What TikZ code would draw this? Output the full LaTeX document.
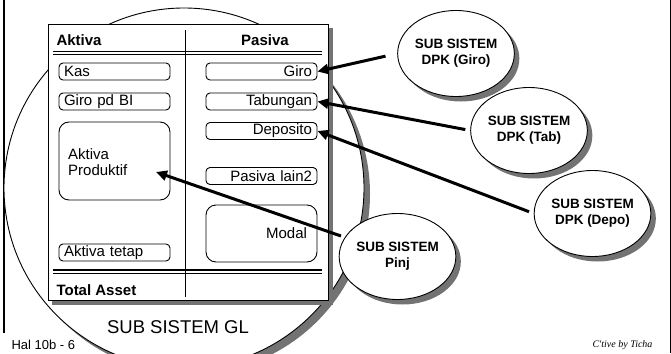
\documentclass[tikz,border=0pt]{standalone}
\usepackage{fontspec}
\setmainfont{Liberation Sans}
\newfontfamily\sigfont{Liberation Serif}
\usetikzlibrary{shapes.geometric,shadows,arrows.meta}

\tikzset{
  shade/.style={fill=black!55},
  acct/.style={draw,line width=0.9pt,rounded corners=4pt,minimum height=17pt,text width=101pt,inner xsep=5pt,inner ysep=0pt,font=\fontsize{15}{17}\selectfont},
  acctl/.style={acct,align=left},
  acctr/.style={acct,align=right},
  bigbox/.style={draw,line width=0.9pt,rounded corners=10pt,minimum width=111pt,inner sep=0pt},
  subsys/.style={ellipse,draw,line width=0.9pt,fill=white,minimum width=98pt,minimum height=86pt,inner sep=0pt,align=center,
    font=\fontsize{13.5}{16}\selectfont\bfseries,
    drop shadow={shadow xshift=5pt,shadow yshift=-5pt,fill=black!55,opacity=1}},
  conn/.style={line width=3pt,-{Triangle[length=11pt,width=10pt]}}
}

\begin{document}
\begin{tikzpicture}[x=1pt,y=-1pt]
\useasboundingbox (0,0) rectangle (671,353);
\clip (0,0) rectangle (671,353);

% frame
\draw[line width=2.5pt] (4,0) -- (4,333);
\draw[line width=1pt] (670,0) -- (670,353);

% sub sistem GL
\fill[shade] (190,194) circle (180);
\draw[fill=white,line width=0.9pt] (184,188) circle (180);
\node (gl) at (178,327) {\fontsize{18.5}{20}\selectfont SUB SISTEM GL};

% neraca
\fill[shade] (52,28) rectangle (333,305);
\draw[fill=white,line width=0.9pt] (48,24) rectangle (328,300);
\draw[line width=0.9pt] (185,30) -- (185,297);
\draw[line width=1.3pt] (53,51.5) -- (322,51.5);
\draw[line width=1.3pt] (53,54.5) -- (322,54.5);
\draw[line width=1.3pt] (53,270) -- (322,270);
\draw[line width=1.3pt] (53,273.5) -- (322,273.5);

\node[anchor=west,font=\fontsize{15}{17}\selectfont\bfseries] (akt) at (53,40) {Aktiva};
\node[font=\fontsize{15}{17}\selectfont\bfseries] (pas) at (265,40) {Pasiva};
\node[anchor=west,font=\fontsize{15}{17}\selectfont\bfseries] (tot) at (53,290) {Total Asset};

\node[acctl] (kas) at (114.5,71.5) {Kas};
\node[acctl] (bi) at (114.5,101.5) {Giro pd BI};
\node[bigbox,minimum height=78pt] (prod) at (114.5,161) {};
\node[anchor=west,align=left,inner sep=0pt,font=\fontsize{15}{16}\selectfont] (prodtxt) at (68,162) {Aktiva\\Produktif};
\coordinate (ptip) at (156,172);
\node[acctl] (tetap) at (114.5,252.5) {Aktiva tetap};

\node[acctr] (giro) at (261.5,71.5) {Giro};
\node[acctr] (tab) at (261.5,101.5) {Tabungan};
\node[acctr] (depo) at (261.5,131) {Deposito};
\node[acctr] (lain) at (261.5,176) {Pasiva lain2};
\node[bigbox,minimum height=57pt,text width=91pt,inner xsep=10pt,align=right,font=\fontsize{15}{17}\selectfont] (modal) at (261.5,233.5) {Modal};

% sub sistem lain
\node[subsys] (gs) at (456,53.5) {SUB SISTEM\\DPK (Giro)};
\node[subsys] (ts) at (529,130.5) {SUB SISTEM\\DPK (Tab)};
\node[subsys] (ds) at (592.5,213.5) {SUB SISTEM\\DPK (Depo)};
\node[subsys] (ps) at (397.5,256.5) {SUB SISTEM\\Pinj};

\draw[conn,shorten <=12pt] (gs.west) -- (giro.east);
\draw[conn,shorten <=5pt] (ts.west) -- (tab.east);
\draw[conn,shorten <=5pt] (ds.west) -- (depo.east);
\draw[conn,shorten <=4pt] (ps.160) -- (ptip);

\node[anchor=west,font=\fontsize{13}{15}\selectfont] (hal) at (8,345) {Hal 10b - 6};
\node[anchor=east,font=\fontsize{10}{12}\sigfont\itshape] (sig) at (656,345) {C'tive by Ticha};
\end{tikzpicture}
\end{document}
